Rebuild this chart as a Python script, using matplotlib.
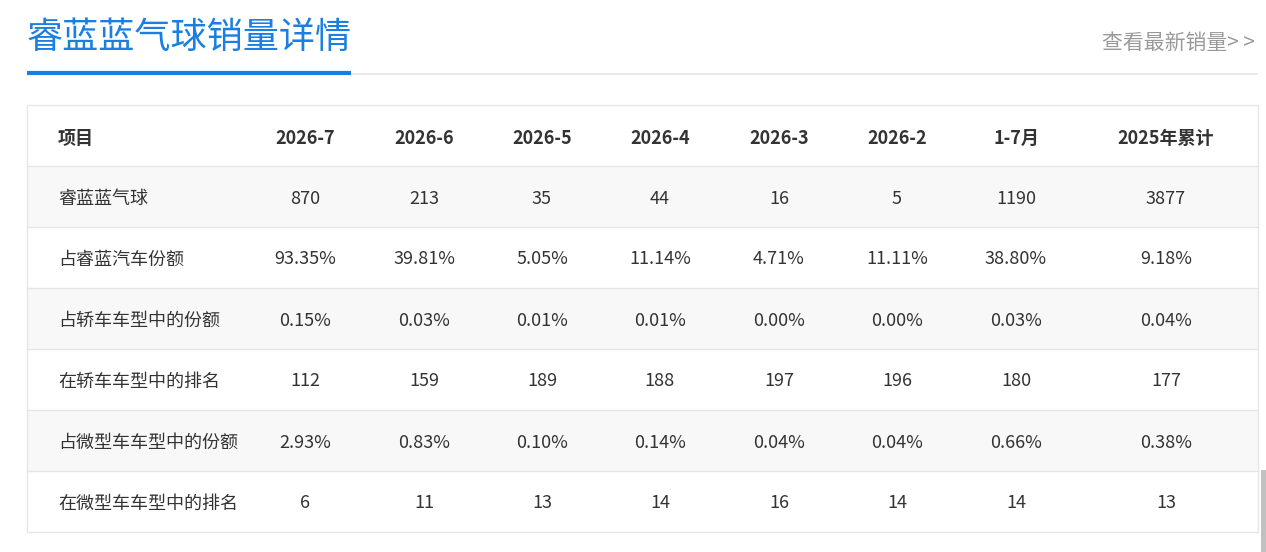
import matplotlib
matplotlib.use('Agg')
import matplotlib.pyplot as plt
from matplotlib.patches import Rectangle

plt.rcParams['font.family'] = ['Noto Sans CJK SC', 'DejaVu Sans']

# 表格数据
title = '睿蓝蓝气球销量详情'
link_text = '查看最新销量> >'
columns = ['项目', '2026-7', '2026-6', '2026-5', '2026-4', '2026-3', '2026-2', '1-7月', '2025年累计']
row_labels = ['睿蓝蓝气球', '占睿蓝汽车份额', '占轿车车型中的份额', '在轿车车型中的排名',
              '占微型车车型中的份额', '在微型车车型中的排名']
sales = ['870', '213', '35', '44', '16', '5', '1190', '3877']
brand_share = ['93.35%', '39.81%', '5.05%', '11.14%', '4.71%', '11.11%', '38.80%', '9.18%']
sedan_share = ['0.15%', '0.03%', '0.01%', '0.01%', '0.00%', '0.00%', '0.03%', '0.04%']
sedan_rank = ['112', '159', '189', '188', '197', '196', '180', '177']
mini_share = ['2.93%', '0.83%', '0.10%', '0.14%', '0.04%', '0.04%', '0.66%', '0.38%']
mini_rank = ['6', '11', '13', '14', '16', '14', '14', '13']
rows = [sales, brand_share, sedan_share, sedan_rank, mini_share, mini_rank]

W, H = 1266, 552
fig = plt.figure(figsize=(W / 100, H / 100), dpi=100)
ax = fig.add_axes([0, 0, 1, 1])
ax.set_xlim(0, W)
ax.set_ylim(H, 0)
ax.axis('off')

blue = '#1a7fe0'
text_col = '#333333'
line_col = '#e6e6e6'

# 标题
ax.text(26, 38, title, fontsize=26, color=blue, ha='left', va='center')
ax.plot([351, 1257], [74, 74], color=line_col, lw=1.2)
ax.plot([27, 351], [72.5, 72.5], color=blue, lw=3, solid_capstyle='butt')
ax.text(1255, 43, link_text, fontsize=15, color='#999999', ha='right', va='center')

# 表格
left, right = 27, 1258
top, header_h, row_h = 105, 61, 61
col_x = [58, 305, 424, 542, 660, 779, 897, 1016, 1166]
fs = 13

for i in range(len(rows)):
    y0 = top + header_h + i * row_h
    if i % 2 == 0:
        ax.add_patch(Rectangle((left, y0), right - left, row_h, facecolor='#f8f8f8',
                               edgecolor='none', zorder=0))
    ax.plot([left, right], [y0, y0], color=line_col, lw=1)

ax.add_patch(Rectangle((left, top), right - left, header_h + len(rows) * row_h,
                       facecolor='none', edgecolor=line_col, lw=1))

hy = top + header_h / 2 + 2.5
for j, c in enumerate(columns):
    ha = 'left' if j == 0 else 'center'
    ax.text(col_x[j], hy, c, fontsize=fs, fontweight='bold', color=text_col, ha=ha, va='center')

for i, (label, vals) in enumerate(zip(row_labels, rows)):
    cy = top + header_h + i * row_h + row_h / 2 + 2
    ax.text(col_x[0], cy, label, fontsize=fs, color=text_col, ha='left', va='center')
    for j, v in enumerate(vals):
        ax.text(col_x[j + 1], cy, v, fontsize=fs, color=text_col, ha='center', va='center')

# 滚动条
ax.add_patch(Rectangle((1261, 470), 5, 82, facecolor='#c1c1c1', edgecolor='none'))

fig.savefig('out.png', dpi=100)
